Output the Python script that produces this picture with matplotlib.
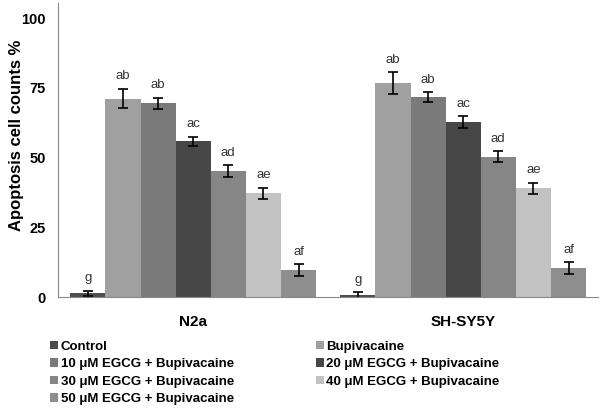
import numpy as np
import matplotlib.pyplot as plt

plt.rcParams['font.family'] = ['Liberation Sans', 'DejaVu Sans']

cells = ['N2a', 'SH-SY5Y']
groups = ['Control', 'Bupivacaine', '10 μM EGCG + Bupivacaine', '20 μM EGCG + Bupivacaine',
          '30 μM EGCG + Bupivacaine', '40 μM EGCG + Bupivacaine', '50 μM EGCG + Bupivacaine']
n2a = [1.3, 71.2, 69.5, 55.8, 45.2, 37.2, 9.7]
n2a_err = [1.0, 3.5, 2.0, 1.7, 2.0, 2.0, 2.0]
shsy = [0.8, 76.7, 71.7, 62.8, 50.3, 39.0, 10.4]
shsy_err = [1.0, 4.0, 1.7, 2.0, 2.0, 2.0, 2.0]
n2a_letters = ['g', 'ab', 'ab', 'ac', 'ad', 'ae', 'af']
shsy_letters = ['g', 'ab', 'ab', 'ac', 'ad', 'ae', 'af']
colors = ['#4d4d4d', '#a0a0a0', '#7a7a7a', '#474747', '#868686', '#c2c2c2', '#8e8e8e']

fig = plt.figure(figsize=(6, 4.12), dpi=100)
ax = fig.add_axes([0.097, 0.279, 0.9, 0.714])

x = np.arange(len(cells))
w = 0.13
handles = []
for i, g in enumerate(groups):
    vals = [n2a[i], shsy[i]]
    errs = [n2a_err[i], shsy_err[i]]
    pos = x + (i - 3) * w
    b = ax.bar(pos, vals, w, color=colors[i], label=g)
    ax.errorbar(pos, vals, yerr=errs, fmt='none', ecolor='black', elinewidth=1.2,
                capsize=3.5, capthick=1.2)
    for p, v, e, t in zip(pos, vals, errs, [n2a_letters[i], shsy_letters[i]]):
        ax.text(p, v + e + 2.3, t, ha='center', va='bottom', fontsize=9.5, color='#333333')
    handles.append(b)

ax.set_xlim(-0.5, 1.5)
ax.set_ylim(0, 105.5)
ax.set_yticks([0, 25, 50, 75, 100])
ax.set_xticks(x)
ax.set_xticklabels(cells, fontsize=11, fontweight='bold')
for lab in ax.get_yticklabels():
    lab.set_fontweight('bold')
    lab.set_fontsize(10.5)
ax.tick_params(axis='y', length=0, pad=9)
ax.tick_params(axis='x', length=0, pad=13)
ax.set_ylabel('Apoptosis cell counts %', fontsize=12, fontweight='bold')
ax.yaxis.set_label_coords(-0.063, 0.55)
for s in ['top', 'right']:
    ax.spines[s].set_visible(False)
for s in ['left', 'bottom']:
    ax.spines[s].set_color('#888888')

order = [0, 2, 4, 6, 1, 3, 5]
fig.legend([handles[k] for k in order], [groups[k] for k in order], ncol=2,
           loc='upper left', bbox_to_anchor=(0.075, 0.186), frameon=False,
           prop={'weight': 'bold', 'size': 9.5}, handlelength=0.6, handleheight=0.6,
           handletextpad=0.2, columnspacing=6.2, labelspacing=0.42, borderaxespad=0)

fig.savefig('out.png', dpi=100)
